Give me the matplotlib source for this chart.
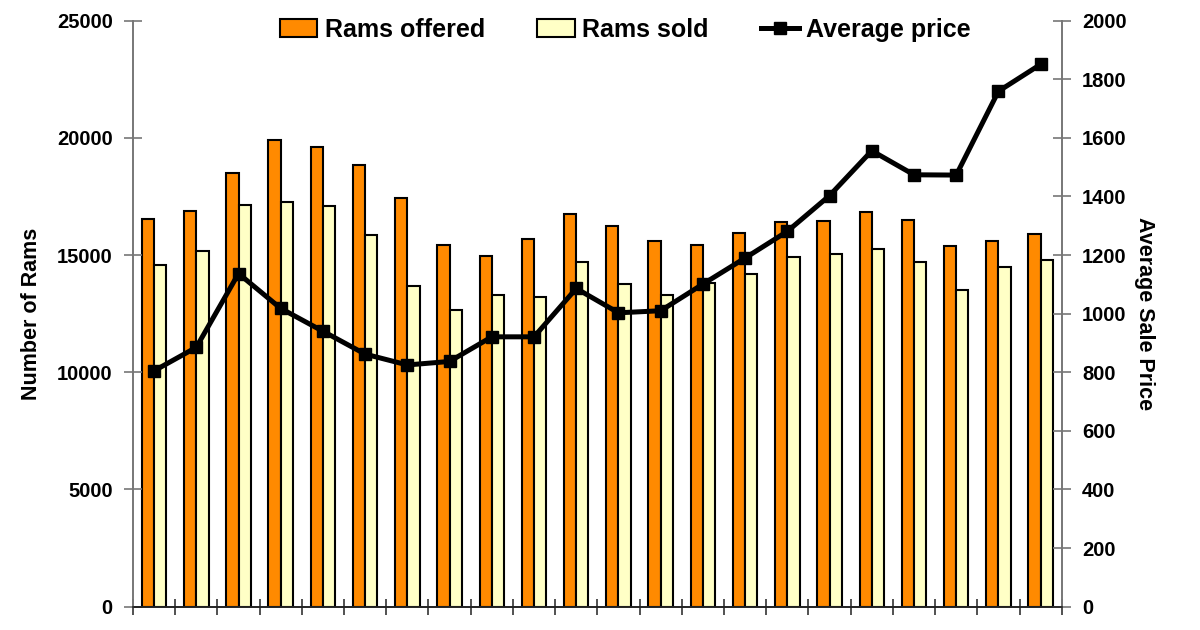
import matplotlib
matplotlib.use('Agg')
import matplotlib.pyplot as plt
import numpy as np

plt.rcParams['font.family'] = ['Liberation Sans', 'DejaVu Sans']
plt.rcParams['font.weight'] = 'bold'

offered = [16540, 16870, 18490, 19920, 19600, 18830, 17420, 15440, 14960, 15700, 16750,
           16250, 15610, 15430, 15930, 16420, 16460, 16840, 16480, 15390, 15600, 15880]
sold = [14590, 15160, 17120, 17250, 17080, 15870, 13680, 12660, 13310, 13200, 14710,
        13770, 13300, 13820, 14190, 14920, 15060, 15250, 14710, 13510, 14490, 14780]
price = [805, 885, 1137, 1018, 940, 862, 825, 837, 921, 921, 1086,
         1003, 1010, 1101, 1190, 1281, 1403, 1556, 1474, 1473, 1759, 1851]

x = np.arange(len(offered))
w = 0.29

fig = plt.figure(figsize=(12, 6.3), dpi=100)
ax1 = fig.add_axes([0.1108, 0.037, 0.7740, 0.9302])
ax2 = ax1.twinx()

b1 = ax1.bar(x - w / 2, offered, w, color='#FF8A00', edgecolor='black', linewidth=1.5, label='Rams offered')
b2 = ax1.bar(x + w / 2, sold, w, color='#FFFFC6', edgecolor='black', linewidth=1.5, label='Rams sold')
l1, = ax2.plot(x, price, color='black', lw=3.6, marker='s', ms=8, label='Average price')

ax1.set_xlim(-0.5, len(x) - 0.5)
ax1.set_ylim(0, 25000)
ax2.set_ylim(0, 2000)
ax1.set_yticks(range(0, 25001, 5000))
ax2.set_yticks(range(0, 2001, 200))

ax1.set_xticks(np.arange(-0.5, len(x)), [''] * (len(x) + 1))
ax1.tick_params(axis='x', direction='inout', length=12, width=1.2, color='#333333')
ax1.tick_params(axis='y', direction='inout', length=13, width=1.2, color='#777777',
                labelsize=14.5, pad=8)
ax2.tick_params(axis='y', direction='inout', length=13, width=1.2, color='#777777',
                labelsize=14.5, pad=8)

for a in (ax1, ax2):
    a.spines['top'].set_visible(False)
    a.spines['left'].set_color('#777777')
    a.spines['right'].set_color('#777777')
    a.spines['left'].set_linewidth(1.2)
    a.spines['right'].set_linewidth(1.2)
    a.spines['bottom'].set_color('#222222')
    a.spines['bottom'].set_linewidth(1.2)

ax1.set_ylabel('Number of Rams', fontsize=15.5, fontweight='bold')
ax2.set_ylabel('Average Sale Price', fontsize=15.5, fontweight='bold', rotation=270)
ax1.yaxis.set_label_coords(-0.098, 0.5)
ax2.yaxis.set_label_coords(1.10, 0.5)

fig.legend([b1, b2, l1], ['Rams offered', 'Rams sold', 'Average price'],
           loc='center', bbox_to_anchor=(0.521, 0.953), ncol=3, frameon=False,
           prop={'size': 18, 'weight': 'bold'}, handlelength=1.5, handletextpad=0.3,
           columnspacing=2.1)

plt.savefig('out.png', dpi=100)
